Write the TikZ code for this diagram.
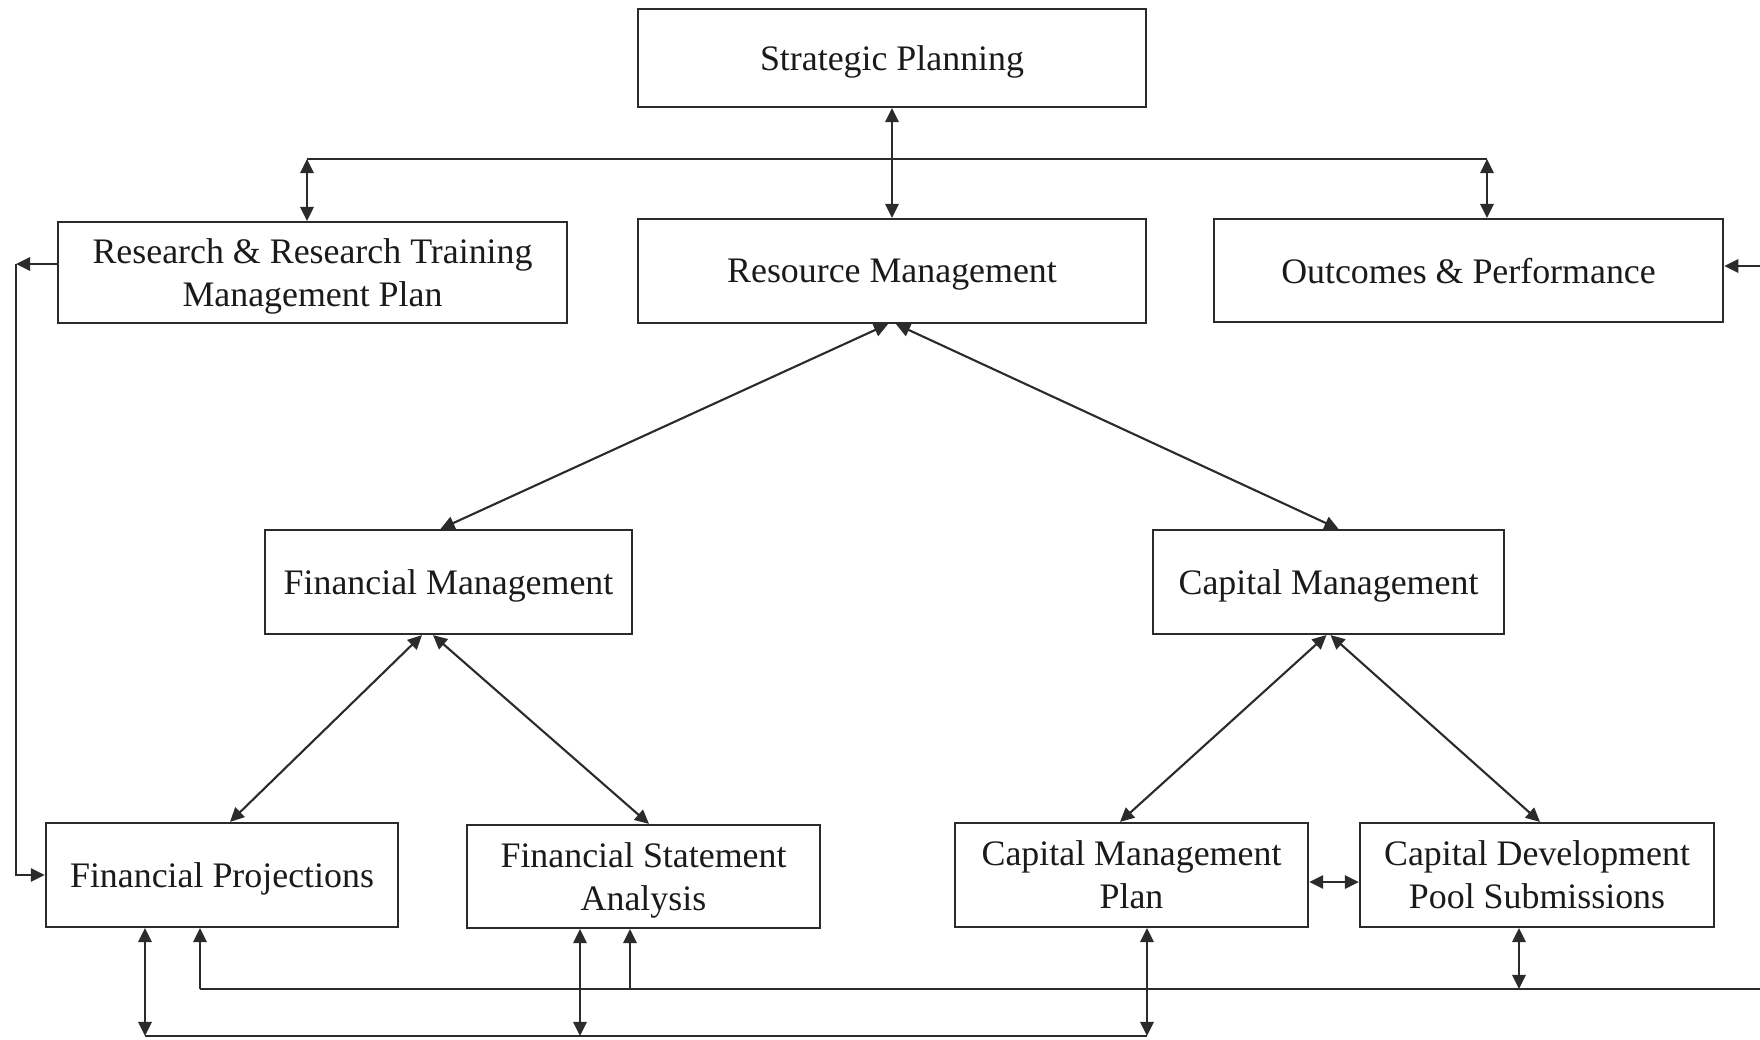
\documentclass[tikz,border=0pt]{standalone}
\usepackage{fontspec}
\setmainfont{Liberation Serif}
\usepackage{xcolor}
\usepackage{tikz}
\usetikzlibrary{arrows.meta}
\definecolor{edge}{HTML}{2B2B2B}
\definecolor{ink}{HTML}{1A1A1A}
\tikzset{
  box/.style={draw=edge, line width=0.6pt, text=ink, align=center, inner sep=0pt,
    font=\fontsize{10.2}{12.2}\selectfont, text depth=0pt, minimum height=1.03cm},
  link/.style={draw=edge, line width=0.6pt},
  both/.style={link, {Triangle[length=4pt,width=3.8pt]}-{Triangle[length=4pt,width=3.8pt]}},
  one/.style={link, -{Triangle[length=4pt,width=3.8pt]}},
}

\begin{document}
\begin{tikzpicture}[x=0.01cm, y=-0.01cm]
  \useasboundingbox (0,0) rectangle (1760,1040);

  % boxes
  \node[box, minimum width=5.08cm, minimum height=0.98cm] (SP) at (892,58) {Strategic Planning};
  \node[box, minimum width=5.09cm, minimum height=1.01cm] (RR) at (312.5,272.5) {Research \& Research Training\\Management Plan};
  \node[box, minimum width=5.08cm, minimum height=1.04cm] (RM) at (892,271) {Resource Management};
  \node[box, minimum width=5.09cm, minimum height=1.03cm] (OP) at (1468.5,270.5) {Outcomes \& Performance};
  \node[box, minimum width=3.67cm, minimum height=1.04cm] (FM) at (448.5,582) {Financial Management};
  \node[box, minimum width=3.51cm, minimum height=1.04cm] (CM) at (1328.5,582) {Capital Management};
  \node[box, minimum width=3.52cm, minimum height=1.04cm] (FP) at (222,875) {Financial Projections};
  \node[box, minimum width=3.53cm, minimum height=1.03cm] (FSA) at (643.5,876.5) {Financial Statement\\Analysis};
  \node[box, minimum width=3.53cm, minimum height=1.04cm] (CMP) at (1131.5,875) {Capital Management\\Plan};
  \node[box, minimum width=3.54cm, minimum height=1.04cm] (CDP) at (1537,875) {Capital Development\\Pool Submissions};

  % top bus
  \coordinate (tL) at (307,159);
  \coordinate (tR) at (1487,159);
  \draw[link] (tL) -- (tR);
  \draw[both] (SP.south) -- (RM.north);
  \draw[both] (tL) -- (tL |- RR.north);
  \draw[both] (tR) -- (tR |- OP.north);

  % tree
  \draw[both] ([xshift=-0.04cm]RM.south) -- ([xshift=-0.08cm]FM.north);
  \draw[both] ([xshift=0.04cm]RM.south) -- ([xshift=0.10cm]CM.north);
  \draw[both] ([xshift=-0.265cm]FM.south) -- ([xshift=0.08cm]FP.north);
  \draw[both] ([xshift=-0.155cm]FM.south) -- ([xshift=0.055cm]FSA.north);
  \draw[both] ([xshift=-0.02cm]CM.south) -- ([xshift=-0.115cm]CMP.north);
  \draw[both] ([xshift=0.02cm]CM.south) -- ([xshift=0.03cm]CDP.north);
  \draw[both] ([yshift=-0.07cm]CMP.east) -- ([yshift=-0.07cm]CDP.west);

  % side loops
  \coordinate (lc) at (16,264);
  \draw[one] (RR.west |- lc) -- (lc);
  \draw[one] (lc) |- (FP.west);
  \coordinate (rc) at (1760,266);
  \draw[one] (rc) -- (rc -| OP.east);

  % bottom buses
  \coordinate (aL) at (200,989);
  \coordinate (aF) at (630,989);
  \coordinate (aC) at (1519,989);
  \coordinate (aR) at (1760,989);
  \draw[link] (aL) -- (aR);
  \draw[one] (aL) -- (aL |- FP.south);
  \draw[one] (aF) -- (aF |- FSA.south);
  \draw[both] (aC) -- (aC |- CDP.south);
  \coordinate (bL) at (145,1036);
  \coordinate (bF) at (580,1036);
  \coordinate (bR) at (1147,1036);
  \draw[link] (bL) -- (bR);
  \draw[both] (bL) -- (bL |- FP.south);
  \draw[both] (bF) -- (bF |- FSA.south);
  \draw[both] (bR) -- (bR |- CMP.south);
\end{tikzpicture}
\end{document}
